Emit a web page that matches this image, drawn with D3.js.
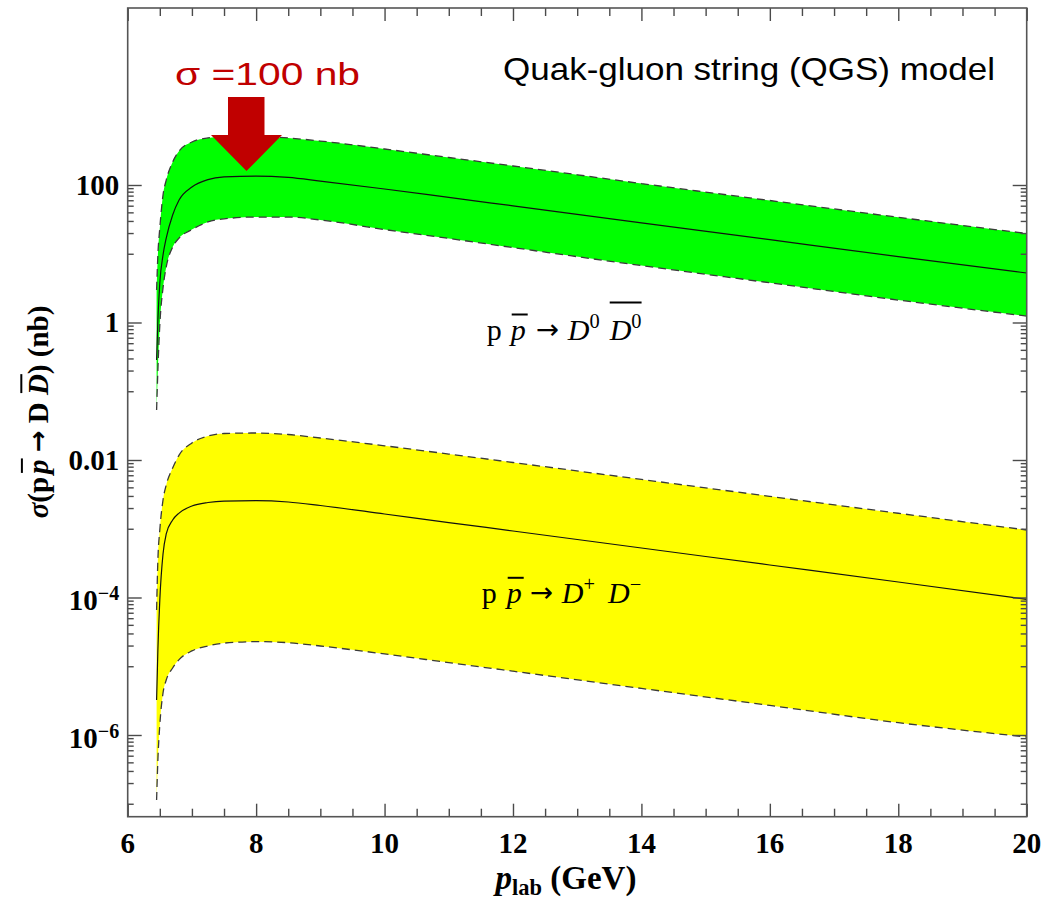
<!DOCTYPE html>
<html><head><meta charset="utf-8">
<script src="https://cdn.jsdelivr.net/npm/d3@7"></script>
<style>body{margin:0;background:#fff} text{white-space:pre}</style>
</head><body>
<svg id="chart" width="1061" height="904"></svg>
<script>
// ---------- data ----------
const pLab = [6.45, 6.47, 6.5, 6.55, 6.6, 6.7, 6.8, 7.0, 7.25, 7.5, 8.0, 8.5, 9.0, 10, 11, 12, 14, 16, 18, 20];
// p pbar -> D0 D0bar (nb)
const d0Upper   = [2.97, 9.59, 23.7, 71.5, 118, 216, 312, 422, 483, 508, 508, 483, 436, 334, 251, 189, 105, 59.5, 33.9, 19.7];
const d0Central = [0.285, 1.09, 3.75, 9.59, 16.9, 36.6, 60.5, 93.5, 120, 131, 135, 129, 114, 87.5, 66, 49.7, 28.2, 16.0, 9.09, 5.25];
const d0Lower   = [0.0534, 0.204, 0.920, 3.18, 6.42, 12.5, 16.9, 22.5, 29.0, 32.2, 34.2, 34.2, 31.0, 22.5, 16.7, 12.3, 6.72, 3.78, 2.12, 1.24];
// p pbar -> D+ D- (nb)
const dcUpper   = [6.58e-5, 3.51e-4, 9.59e-4, 2.62e-3, 4.33e-3, 7.65e-3, 0.0118, 0.0177, 0.0223, 0.0243, 0.0247, 0.0235, 0.0209, 0.0161, 0.0122, 9.2e-3, 5.22e-3, 2.96e-3, 1.68e-3, 9.59e-4];
const dcCentral = [3.23e-6, 1.72e-5, 9.2e-5, 4.29e-4, 8.39e-4, 1.34e-3, 1.69e-3, 2.14e-3, 2.41e-3, 2.53e-3, 2.56e-3, 2.45e-3, 2.18e-3, 1.64e-3, 1.23e-3, 9.28e-4, 5.25e-4, 2.97e-4, 1.68e-4, 9.41e-5];
const dcLower   = [1.13e-7, 4.33e-7, 1.40e-6, 4.08e-6, 6.31e-6, 9.43e-6, 1.25e-5, 1.67e-5, 1.97e-5, 2.17e-5, 2.28e-5, 2.2e-5, 1.97e-5, 1.51e-5, 1.13e-5, 8.47e-6, 4.76e-6, 2.69e-6, 1.51e-6, 9.35e-7];

const xTickValues = [6, 8, 10, 12, 14, 16, 18, 20];
const xTickLabels = ["6", "8", "10", "12", "14", "16", "18", "20"];
const yTickValues = [100, 1, 0.01, 1e-4, 1e-6];
const yTickBase   = ["100", "1", "0.01", "10", "10"];
const yTickExp    = [null, null, null, "\u22124", "\u22126"];
const peakLabel = "\u03c3 =100 nb";
const modelLabel = "Quak-gluon string (QGS) model";
const peakX = 7.85, peakValue = 135;

// ---------- layout ----------
const svg = d3.select("#chart");
const M = {l: 127.7, t: 8, r: 1026.7, b: 816.7};
const x = d3.scaleLinear().domain([6, 20]).range([M.l, M.r]);
const y = d3.scaleLog().domain([6.48e-8, 37540]).range([M.b, M.t]);
const SERIF = "'Liberation Serif','Times New Roman',serif";
const SANS = "'Liberation Sans',Arial,sans-serif";
const ARROWF = "'DejaVu Sans',sans-serif";

svg.append("clipPath").attr("id", "clip").append("rect")
  .attr("x", M.l).attr("y", M.t).attr("width", M.r - M.l).attr("height", M.b - M.t);
const plot = svg.append("g").attr("clip-path", "url(#clip)");

function band(upper, lower, fill) {
  const rows = pLab.map((p, i) => ({p, u: upper[i], l: lower[i]}));
  plot.append("path").datum(rows)
    .attr("d", d3.area().x(d => x(d.p)).y0(d => y(d.l)).y1(d => y(d.u)).curve(d3.curveMonotoneX))
    .attr("fill", fill).attr("stroke", "none");
}
function curve(vals, dashed) {
  const rows = pLab.map((p, i) => ({p, v: vals[i]}));
  plot.append("path").datum(rows)
    .attr("d", d3.line().x(d => x(d.p)).y(d => y(d.v)).curve(d3.curveMonotoneX))
    .attr("fill", "none")
    .attr("stroke", dashed ? "#3a3a3a" : "#111")
    .attr("stroke-width", dashed ? 1.3 : 1.2)
    .attr("stroke-dasharray", dashed ? "8,5" : null);
}
band(dcUpper, dcLower, "#ffff00");
band(d0Upper, d0Lower, "#00ff00");
[dcCentral, d0Central].forEach(v => curve(v, false));
[dcUpper, dcLower, d0Upper, d0Lower].forEach(v => curve(v, true));

// ---------- ticks ----------
const TC = "#4a4a4a";
function styleTicks(g) {
  g.select(".domain").remove();
  g.selectAll(".tick line").attr("stroke", TC).attr("stroke-width", 1.4);
  g.selectAll(".tick text").remove();
}
const xMinor = d3.range(6.5, 20, 0.5).filter(v => v % 2 !== 0);
const yMinor = [];
yTickValues.forEach(v => { for (let j = 1; j <= 9; j++) yMinor.push(v * j / 10); });

svg.append("g").attr("transform", `translate(0,${M.b})`).call(d3.axisBottom(x).tickValues(xTickValues).tickSize(-13)).call(styleTicks);
svg.append("g").attr("transform", `translate(0,${M.b})`).call(d3.axisBottom(x).tickValues(xMinor).tickSize(-8)).call(styleTicks);
svg.append("g").attr("transform", `translate(0,${M.t})`).call(d3.axisTop(x).tickValues(xTickValues).tickSize(-13)).call(styleTicks);
svg.append("g").attr("transform", `translate(0,${M.t})`).call(d3.axisTop(x).tickValues(xMinor).tickSize(-8)).call(styleTicks);
svg.append("g").attr("transform", `translate(${M.l},0)`).call(d3.axisLeft(y).tickValues(yTickValues).tickSize(-14)).call(styleTicks);
svg.append("g").attr("transform", `translate(${M.l},0)`).call(d3.axisLeft(y).tickValues(yMinor).tickSize(-6)).call(styleTicks);
svg.append("g").attr("transform", `translate(${M.r},0)`).call(d3.axisRight(y).tickValues(yTickValues).tickSize(-14)).call(styleTicks);
svg.append("g").attr("transform", `translate(${M.r},0)`).call(d3.axisRight(y).tickValues(yMinor).tickSize(-6)).call(styleTicks);

svg.append("rect").attr("x", M.l).attr("y", M.t).attr("width", M.r - M.l).attr("height", M.b - M.t)
  .attr("fill", "none").attr("stroke", "#555").attr("stroke-width", 1.6);

// tick labels
svg.append("g").selectAll("text").data(xTickValues).join("text")
  .attr("x", d => x(d)).attr("y", M.b + 36).attr("text-anchor", "middle")
  .style("font-family", SERIF).style("font-weight", "bold").style("font-size", "29px")
  .text((d, i) => xTickLabels[i]);
const yl = svg.append("g");
yTickValues.forEach((v, i) => {
  const t = yl.append("text").attr("x", M.l - 8.5).attr("text-anchor", "end")
    .style("font-family", SERIF).style("font-weight", "bold").style("font-size", "29px");
  if (yTickExp[i]) {
    t.attr("y", y(v) + 13);
    t.append("tspan").text(yTickBase[i]);
    t.append("tspan").attr("dy", -10).style("font-size", "20px").text(yTickExp[i]);
  } else {
    t.attr("y", y(v) + 10).text(yTickBase[i]);
  }
});

// ---------- math-like text helper ----------
function mathText(g, x0, y0, parts, o) {
  let cx = x0; const bars = [];
  parts.forEach(p => {
    if (p.gap) { cx += p.gap; return; }
    const small = p.sup || p.sub;
    const fs = (small ? o.fs * 0.68 : o.fs) * (p.sc || 1);
    const dy = p.sup ? -o.fs * 0.4 : p.sub ? o.fs * 0.2 : (p.dy || 0);
    const t = g.append("text").attr("x", cx).attr("y", y0 + dy)
      .style("font-family", p.ff || o.ff).style("font-size", fs + "px")
      .style("font-weight", (p.b !== undefined ? p.b : o.bold) ? "bold" : "normal")
      .style("font-style", p.it ? "italic" : "normal")
      .attr("fill", o.fill || "#000").text(p.t);
    const w = t.node().getComputedTextLength();
    if (p.bar) bars.push({x0: cx + (p.bx0 || 0), x1: cx + w + (p.bx1 || 0), h: p.bar, id: p.bid || Math.random()});
    cx += w;
  });
  d3.groups(bars, b => b.id).forEach(([, bs]) => {
    const a = d3.min(bs, b => b.x0), b1 = d3.max(bs, b => b.x1), h = d3.max(bs, b => b.h);
    g.append("line").attr("x1", a).attr("x2", b1).attr("y1", y0 - h * o.fs).attr("y2", y0 - h * o.fs)
      .attr("stroke", o.fill || "#000").attr("stroke-width", o.bw || 1.8);
  });
  return cx - x0;
}

// reaction labels
const labG = svg.append("g");
mathText(labG, 486.7, 340, [
  {t: "p"}, {gap: 9}, {t: "p", it: 1, bar: 0.85, bx0: 1, bx1: 2}, {gap: 10},
  {t: "\u2192", ff: ARROWF, sc: 0.92, dy: -1}, {gap: 9},
  {t: "D", it: 1}, {t: "0", sup: 1}, {gap: 10},
  {t: "D", it: 1, bar: 1.25, bid: "dd"}, {t: "0", sup: 1, bar: 1.25, bid: "dd"}
], {fs: 30, ff: SERIF, bold: false, bw: 2});
mathText(labG, 481.7, 603.3, [
  {t: "p"}, {gap: 10}, {t: "p", it: 1, bar: 0.85, bx0: 1, bx1: 2}, {gap: 8},
  {t: "\u2192", ff: ARROWF, sc: 0.92, dy: -1}, {gap: 9},
  {t: "D", it: 1}, {t: "+", sup: 1}, {gap: 13}, {t: "D", it: 1}, {t: "\u2212", sup: 1}
], {fs: 30, ff: SERIF, bold: false, bw: 2});

// x-axis title
const xt = svg.append("g");
const xw = mathText(xt, 0, M.b + 72, [
  {t: "p", it: 1}, {t: "lab", sub: 1}, {t: " (GeV)"}
], {fs: 33, ff: SERIF, bold: true});
xt.attr("transform", `translate(${566 - xw / 2},0)`);

// y-axis title
const yt = svg.append("g").attr("transform", "translate(48,412) rotate(-90)");
const ytIn = yt.append("g");
const yw = mathText(ytIn, 0, 0, [
  {t: "\u03c3", it: 1}, {t: "(p"}, {gap: 3}, {t: "p", it: 1, bar: 0.9, bx0: 1, bx1: 1}, {gap: 7},
  {t: "\u2192", ff: ARROWF, sc: 0.9, dy: -1}, {t: " D "},
  {t: "D", it: 1, bar: 0.92, bx0: 2, bx1: 0}, {t: ") (nb)"}
], {fs: 29, ff: SERIF, bold: true, bw: 2});
ytIn.attr("transform", `translate(${-yw / 2},0)`);

// annotation: arrow + texts
const tipX = x(peakX), tipY = y(peakValue) - 5;
const arrowPts = [[-18.5, -74], [18, -74], [18, -36], [35.5, -36], [0, 0], [-35.5, -36], [-18.5, -36]];
svg.append("polygon").attr("points", arrowPts.map(([dx, dy]) => [tipX + dx, tipY + dy].join(",")).join(" "))
  .attr("fill", "#c00000");
svg.append("text").attr("x", 175).attr("y", 85).attr("textLength", 185).attr("lengthAdjust", "spacingAndGlyphs")
  .style("font-family", SANS).style("font-size", "32px").attr("fill", "#c00000").text(peakLabel);
svg.append("text").attr("x", 503).attr("y", 80).attr("textLength", 492).attr("lengthAdjust", "spacingAndGlyphs")
  .style("font-family", SANS).style("font-size", "32px").attr("fill", "#000").text(modelLabel);
</script>
</body></html>
